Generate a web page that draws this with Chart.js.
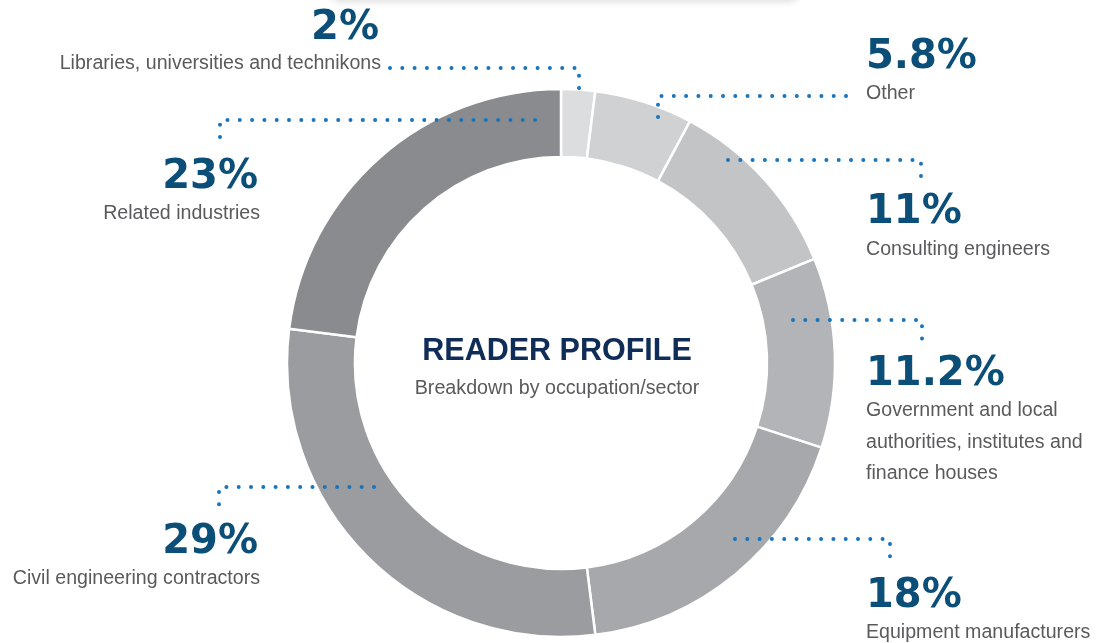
<!DOCTYPE html>
<html lang="en">
  <head>
    <meta charset="utf-8" />
    <title>Reader profile</title>
    <style>
      * {
        margin: 0;
        padding: 0;
      }
      body {
        width: 1108px;
        height: 643px;
        background: #fff;
        overflow: hidden;
        position: relative;
      }
      .topShade {
        position: absolute;
        left: 330px;
        top: -24px;
        width: 470px;
        height: 24px;
        border-radius: 12px;
        background: #fff;
        box-shadow: 0 2px 7px rgba(0, 0, 0, 0.13);
      }
      #myChart {
        position: absolute;
        left: 0;
        top: 0;
      }
    </style>
  </head>
  <body>
    <div class="topShade"></div>
    <canvas id="myChart" width="1108" height="643"></canvas>

    <script src="https://cdn.jsdelivr.net/npm/chart.js"></script>
    <script>
      // data (clockwise from 12 o'clock)
      const categories = [
        "Libraries, universities and technikons",
        "Other",
        "Consulting engineers",
        ["Government and local", "authorities, institutes and", "finance houses"],
        "Equipment manufacturers",
        "Civil engineering contractors",
        "Related industries",
      ];
      const shares = [2, 5.8, 11, 11.2, 18, 29, 23];
      const shareLabels = ["2%", "5.8%", "11%", "11.2%", "18%", "29%", "23%"];
      const sliceColors = [
        "#dcdddf",
        "#d0d1d3",
        "#c3c4c6",
        "#b3b4b7",
        "#a7a8ab",
        "#9b9ca0",
        "#8a8b8f",
      ];

      // callout layout: leader path, text anchor, alignment
      const callouts = [
        { path: [[390, 68], [579, 68], [579, 95]], x: 379, pctY: 39, lblY: 64, align: "right" },
        { path: [[846, 96], [658, 96], [658, 123]], x: 866, pctY: 68, lblY: 94, align: "left" },
        { path: [[728, 160], [921, 160], [921, 186]], x: 866, pctY: 223, lblY: 250, align: "left" },
        { path: [[793, 320], [922, 320], [922, 346]], x: 866, pctY: 385, lblY: 411, align: "left" },
        { path: [[735, 539], [890, 539], [890, 565]], x: 866, pctY: 607, lblY: 633, align: "left" },
        { path: [[374, 487], [219, 487], [219, 513]], x: 258, pctY: 553, lblY: 579, align: "right" },
        { path: [[535, 120], [220, 120], [220, 146]], x: 258, pctY: 188, lblY: 214, align: "right" },
      ];

      // callouts + centre title plugin
      const readerCallouts = {
        id: "readerCallouts",
        afterDraw(chart) {
          const { ctx } = chart;
          const labels = chart.data.labels;
          ctx.save();

          // dotted leaders
          ctx.strokeStyle = "#1a74bb";
          ctx.lineWidth = 4;
          ctx.lineCap = "round";
          ctx.setLineDash([0, 12.3]);
          callouts.forEach((c) => {
            ctx.beginPath();
            ctx.moveTo(c.path[0][0], c.path[0][1]);
            for (let i = 1; i < c.path.length; i++) {
              ctx.lineTo(c.path[i][0], c.path[i][1]);
            }
            ctx.stroke();
          });
          ctx.setLineDash([]);

          // percentages and category names
          callouts.forEach((c, i) => {
            ctx.textAlign = c.align;
            ctx.textBaseline = "alphabetic";
            ctx.fillStyle = "#0b4f79";
            ctx.font = "bold 40px 'DejaVu Sans'";
            ctx.fillText(shareLabels[i], c.x, c.pctY);

            ctx.textBaseline = "middle";
            ctx.fillStyle = "#5a5a5d";
            ctx.font = "19.6px 'Liberation Sans'";
            const lines = Array.isArray(labels[i]) ? labels[i] : [labels[i]];
            const lx = c.align === "right" ? c.x + 2 : c.x;
            lines.forEach((line, k) => {
              ctx.fillText(line, lx, c.lblY + k * 31.5);
            });
          });

          // centre title
          const arc = chart.getDatasetMeta(0).data[0];
          const cx = arc.x - 4;
          const cy = arc.y;
          ctx.textAlign = "center";
          ctx.textBaseline = "alphabetic";
          ctx.fillStyle = "#0f2d57";
          ctx.font = "bold 30.5px 'Liberation Sans'";
          ctx.fillText("READER PROFILE", cx, cy - 3);
          ctx.fillStyle = "#5a5a5d";
          ctx.font = "19.7px 'Liberation Sans'";
          ctx.fillText("Breakdown by occupation/sector", cx, cy + 31);

          ctx.restore();
        },
      };

      const data = {
        labels: categories,
        datasets: [
          {
            data: shares,
            backgroundColor: sliceColors,
            borderColor: "#ffffff",
            borderWidth: 2.5,
            hoverOffset: 0,
          },
        ],
      };

      const config = {
        type: "doughnut",
        data: data,
        options: {
          responsive: false,
          animation: false,
          radius: 274,
          cutout: "75.2%",
          layout: {
            padding: { left: 14, right: 0, top: 83, bottom: 0 },
          },
          plugins: {
            legend: { display: false },
            tooltip: { enabled: false },
          },
        },
        plugins: [readerCallouts],
      };

      const myChart = new Chart(document.getElementById("myChart"), config);
    </script>
  </body>
</html>
